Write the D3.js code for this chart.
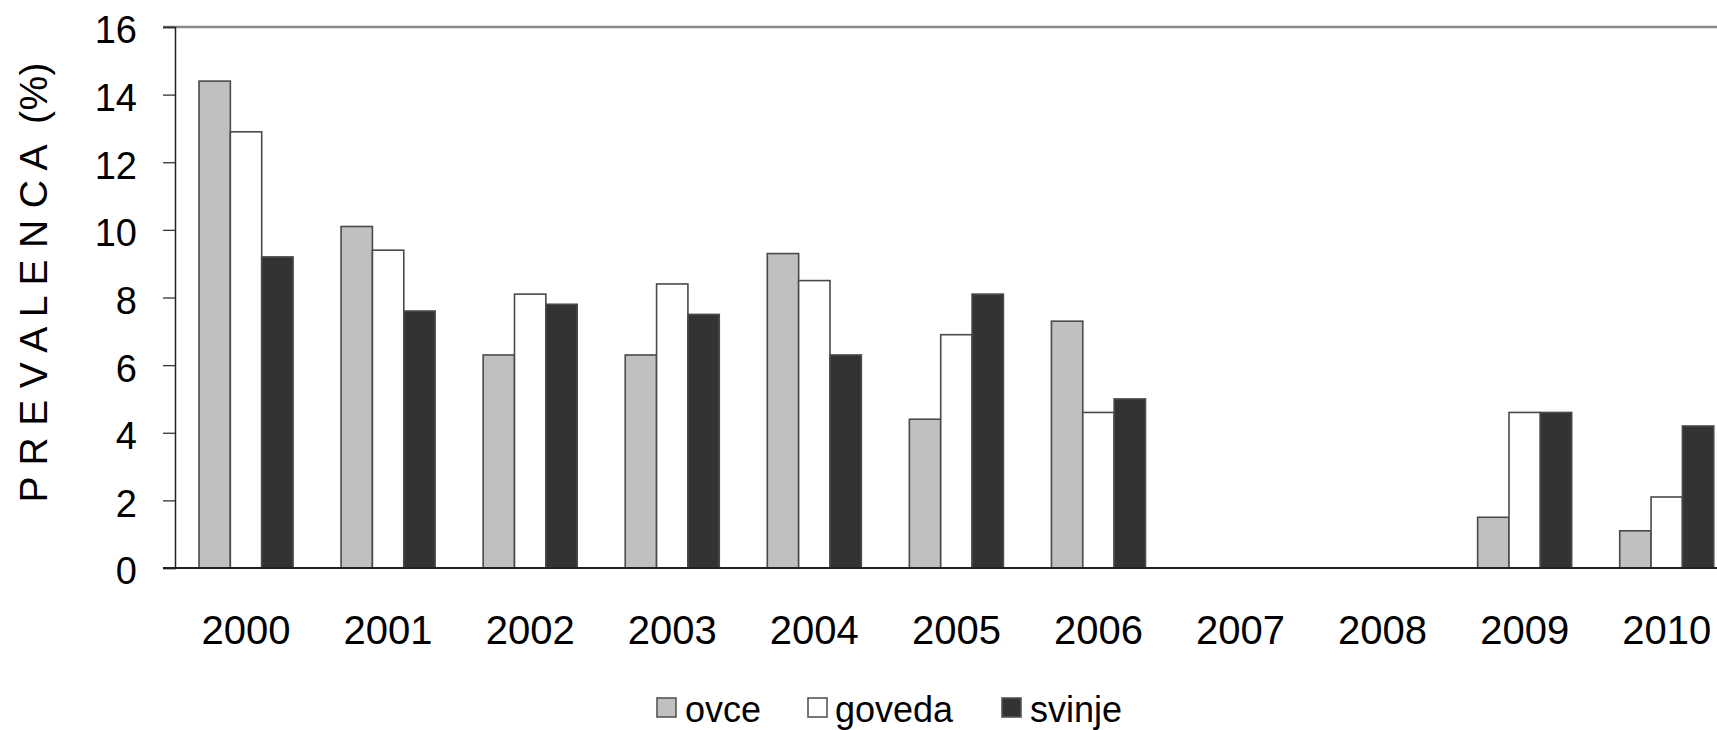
<!DOCTYPE html>
<html>
<head>
<meta charset="utf-8">
<script src="https://cdn.jsdelivr.net/npm/d3@7/dist/d3.min.js"></script>
<style>
  html, body { margin: 0; padding: 0; background: #fff; }
  svg { display: block; font-family: "Liberation Sans", Arial, sans-serif; }
</style>
</head>
<body>
<svg id="chart" width="1717" height="730"></svg>
<script>
const years = ["2000","2001","2002","2003","2004","2005","2006","2007","2008","2009","2010"];
const seriesNames = ["ovce","goveda","svinje"];
const ovce   = [14.4, 10.1, 6.3, 6.3, 9.3, 4.4, 7.3, 0, 0, 1.5, 1.1];
const goveda = [12.9,  9.4, 8.1, 8.4, 8.5, 6.9, 4.6, 0, 0, 4.6, 2.1];
const svinje = [ 9.2,  7.6, 7.8, 7.5, 6.3, 8.1, 5.0, 0, 0, 4.6, 4.2];
const yTicks = [0, 2, 4, 6, 8, 10, 12, 14, 16];
const yTitle = "P R E V A L E N C A  (%)";

(function () {
const seriesValues = { ovce: ovce, goveda: goveda, svinje: svinje };
const fills = { ovce: "#c0c0c0", goveda: "#ffffff", svinje: "#333333" };

const svg = d3.select("#chart");
const plotLeft = 175, plotTop = 27, plotBottom = 568;
const step = 142.07;
const plotRight = plotLeft + years.length * step;

const x0 = d3.scaleBand().domain(years).range([plotLeft, plotRight]).paddingInner(0.338).paddingOuter(0.169);
const x1 = d3.scaleBand().domain(seriesNames).range([0, x0.bandwidth()]);
const y = d3.scaleLinear().domain([0, 16]).range([plotBottom, plotTop]);

// top frame line
svg.append("line")
  .attr("x1", plotLeft - 12).attr("x2", 1717)
  .attr("y1", y(16)).attr("y2", y(16))
  .attr("stroke", "#8a8a8a").attr("stroke-width", 2.5);

// bars
const groups = svg.append("g").selectAll("g")
  .data(years.map((yr, i) => ({ yr, i })))
  .join("g")
  .attr("transform", d => `translate(${x0(d.yr)},0)`);

groups.selectAll("rect")
  .data(d => seriesNames.map(s => ({ s, v: seriesValues[s][d.i] })).filter(e => e.v > 0))
  .join("rect")
  .attr("x", e => x1(e.s))
  .attr("width", x1.bandwidth())
  .attr("y", e => y(e.v))
  .attr("height", e => y(0) - y(e.v))
  .attr("fill", e => fills[e.s])
  .attr("stroke", "#4a4a4a")
  .attr("stroke-width", 1.6);

// y axis
const yAxis = d3.axisLeft(y).tickValues(yTicks).tickSize(12).tickPadding(26).tickFormat(d3.format("d"));
const gy = svg.append("g").attr("transform", `translate(${plotLeft},0)`).call(yAxis);
gy.select(".domain").attr("stroke", "#222").attr("stroke-width", 1.5);
gy.selectAll(".tick line").attr("stroke", "#333").attr("stroke-width", 1.3);
gy.selectAll(".tick text").attr("font-size", 38).attr("fill", "#000")
  .attr("font-family", "Liberation Sans, Arial, sans-serif").attr("dy", "0.42em");

// baseline
svg.append("line")
  .attr("x1", plotLeft - 12).attr("x2", 1717)
  .attr("y1", y(0)).attr("y2", y(0))
  .attr("stroke", "#222").attr("stroke-width", 1.8);

// x axis labels
const xAxis = d3.axisBottom(x0).tickSize(0).tickPadding(48);
const gx = svg.append("g").attr("transform", `translate(0,${plotBottom})`).call(xAxis);
gx.select(".domain").remove();
gx.selectAll(".tick text").attr("font-size", 40).attr("fill", "#000")
  .attr("font-family", "Liberation Sans, Arial, sans-serif");

// y title
svg.append("text")
  .attr("transform", `translate(47,282.5) rotate(-90)`)
  .attr("text-anchor", "middle")
  .attr("font-size", 39)
  .attr("fill", "#000")
  .attr("textLength", 440)
  .attr("lengthAdjust", "spacing")
  .style("white-space", "pre")
  .text(yTitle);

// legend
const legendItems = [
  { s: "ovce", sq: 657, tx: 685 },
  { s: "goveda", sq: 808, tx: 835 },
  { s: "svinje", sq: 1002, tx: 1030 }
];
const lg = svg.append("g");
legendItems.forEach(it => {
  lg.append("rect")
    .attr("x", it.sq).attr("y", 698)
    .attr("width", 19).attr("height", 19)
    .attr("fill", fills[it.s]).attr("stroke", "#555").attr("stroke-width", 1.6);
  lg.append("text")
    .attr("x", it.tx).attr("y", 722)
    .attr("font-size", 36).attr("fill", "#000")
    .text(it.s);
});
})();
</script>
</body>
</html>
